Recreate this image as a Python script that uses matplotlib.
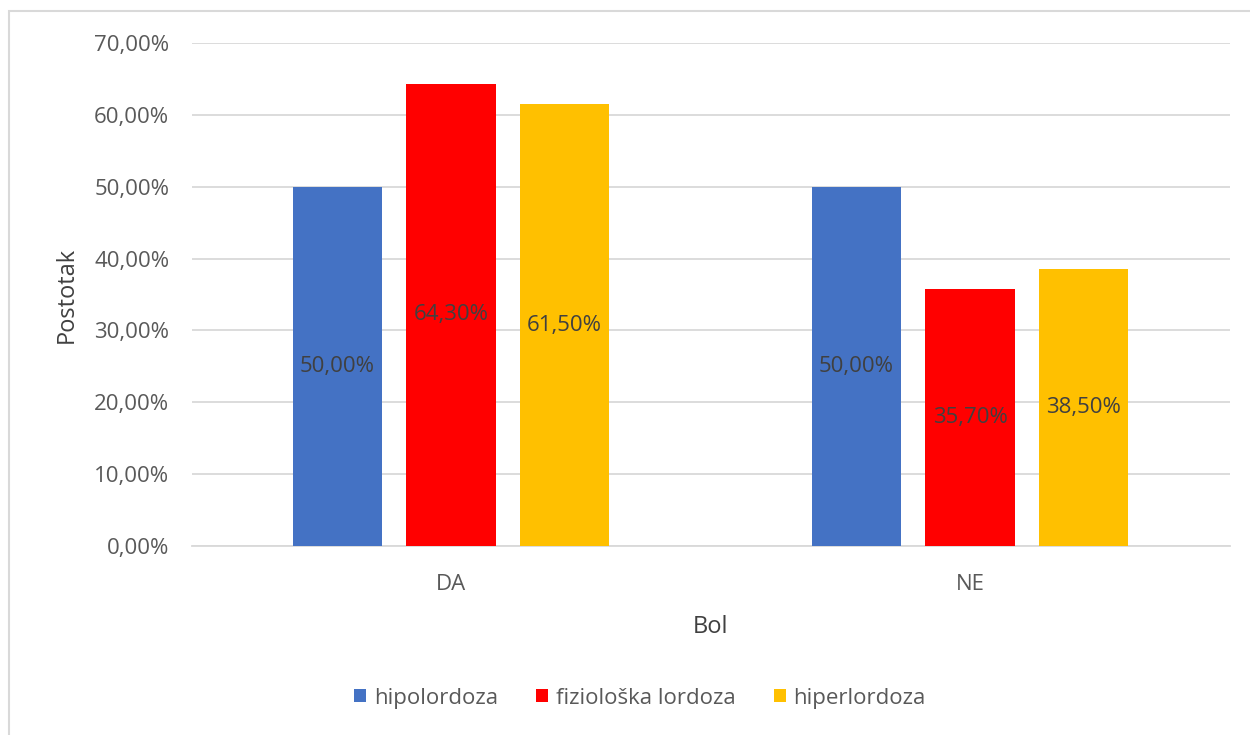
import numpy as np
import matplotlib.pyplot as plt
from matplotlib.patches import Rectangle

categories = ['DA', 'NE']
series_names = ['hipolordoza', 'fiziološka lordoza', 'hiperlordoza']
hipolordoza = [50.0, 50.0]
fizioloska = [64.3, 35.7]
hiperlordoza = [61.5, 38.5]
colors = ['#4472C4', '#FF0000', '#FFC000']

plt.rcParams['font.family'] = ['Open Sans', 'DejaVu Sans']

fig = plt.figure(figsize=(12.5, 7.35), dpi=100)
ax = fig.add_axes([0.1532, 0.2571, 0.8304, 0.6844])

# okvir grafikona (samo lijevi i gornji rub vidljiv)
fig.patches.append(Rectangle((9 / 1250, -0.1), 1.2, 1 - 11 / 735 + 0.1,
                             transform=fig.transFigure, fill=False,
                             edgecolor='#D9D9D9', linewidth=1.5))

x = np.arange(len(categories))
width = 0.1715
step = 0.2187
data = [hipolordoza, fizioloska, hiperlordoza]

for i, (vals, name, c) in enumerate(zip(data, series_names, colors)):
    bars = ax.bar(x + (i - 1) * step, vals, width, color=c, label=name, zorder=3)
    for b, v in zip(bars, vals):
        ax.text(b.get_x() + b.get_width() / 2, v / 2,
                f'{v:.2f}%'.replace('.', ','), ha='center', va='center',
                fontsize=16, color='#404040', zorder=4)

ax.set_xlim(-0.5, 1.5)
ax.set_ylim(0, 70)
ax.set_yticks(np.arange(0, 71, 10))
ax.set_yticklabels([f'{t:.2f}%'.replace('.', ',') for t in np.arange(0, 71, 10)])
ax.set_xticks(x)
ax.set_xticklabels(categories)
ax.tick_params(axis='both', length=0, labelsize=16, labelcolor='#595959')
ax.tick_params(axis='y', pad=16)
ax.tick_params(axis='x', pad=20)

ax.grid(axis='y', color='#D9D9D9', linewidth=1.3, zorder=0)
for s in ['top', 'right', 'left']:
    ax.spines[s].set_visible(False)
ax.spines['bottom'].set_color('#D9D9D9')
ax.spines['bottom'].set_linewidth(1.3)

ax.set_ylabel('Postotak', fontsize=17, color='#404040')
ax.set_xlabel('Bol', fontsize=17, color='#404040')
ax.yaxis.set_label_coords(-0.109, 0.5)
ax.xaxis.set_label_coords(0.5, -0.137)

fig.legend(loc='center', bbox_to_anchor=(0.512, 0.0503), ncol=3, frameon=False,
           fontsize=16, labelcolor='#595959', handlelength=0.55,
           handleheight=0.55, handletextpad=0.35, columnspacing=1.7)

plt.savefig('out.png', dpi=100)
